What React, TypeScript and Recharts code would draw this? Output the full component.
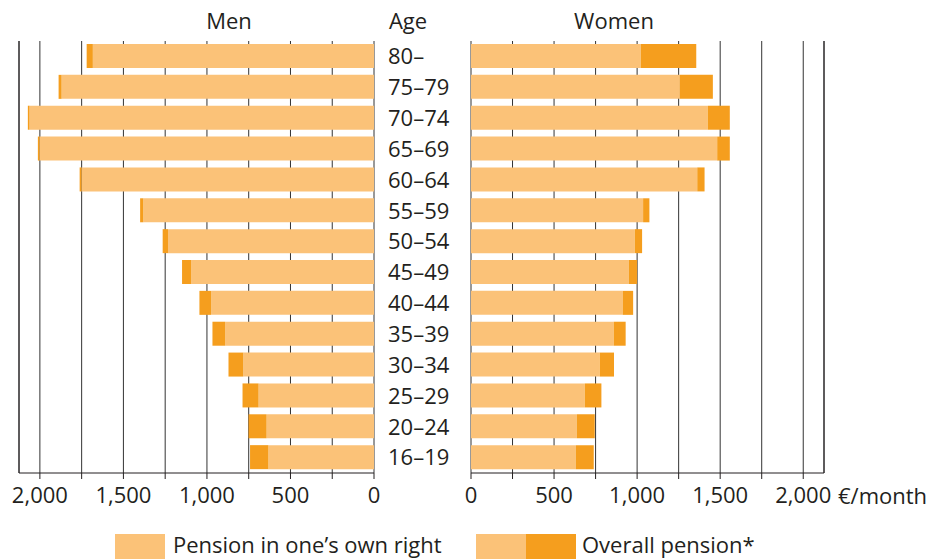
import React from 'react';
import { BarChart, Bar, XAxis, YAxis, CartesianGrid, ReferenceLine } from 'recharts';

const ageGroups = ['80–', '75–79', '70–74', '65–69', '60–64', '55–59', '50–54', '45–49', '40–44', '35–39', '30–34', '25–29', '20–24', '16–19'];
const menOwn = [1683, 1870, 2062, 2002, 1751, 1381, 1233, 1095, 975, 891, 783, 691, 643, 632];
const menOverall = [1720, 1888, 2072, 2012, 1762, 1400, 1265, 1149, 1045, 967, 871, 787, 751, 742];
const womenOwn = [1022, 1256, 1426, 1482, 1362, 1036, 986, 950, 913, 859, 775, 685, 637, 631];
const womenOverall = [1356, 1456, 1558, 1558, 1406, 1074, 1030, 1000, 976, 931, 861, 785, 745, 739];
const axisTicks = [0, 250, 500, 750, 1000, 1250, 1500, 1750, 2000];
const labeledTicks = [0, 500, 1000, 1500, 2000];
const axisMax = 2125;

const LIGHT = '#FBC278';
const DARK = '#F59E1E';
const INK = '#231F20';
const GRID = '#333333';
const FONT = '"Open Sans", "Noto Sans", sans-serif';
const FS = 22;

const menData = ageGroups.map((age, i) => ({ age, own: menOwn[i], extra: menOverall[i] - menOwn[i] }));
const womenData = ageGroups.map((age, i) => ({ age, own: womenOwn[i], extra: womenOverall[i] - womenOwn[i] }));

const fmt = (v: number) => (labeledTicks.includes(v) ? v.toLocaleString('en-US') : '');

export default function App() {
  return (
    <div style={{ position: 'absolute', left: 0, top: 0, width: 942, height: 559, background: '#fff', fontFamily: FONT, overflow: 'hidden' }}>
      <div style={{ position: 'absolute', left: 0, top: 0 }}>
        <BarChart layout="vertical" width={460} height={520} data={menData} margin={{ top: 41, right: 0, bottom: 0, left: 19 }} barSize={24}>
          <CartesianGrid horizontal={false} stroke={GRID} />
          <XAxis type="number" reversed domain={[0, axisMax]} ticks={axisTicks} interval={0} tickFormatter={fmt} height={47}
            tickMargin={8} axisLine={{ stroke: INK }} tickLine={{ stroke: INK }} tick={{ fill: INK, fontSize: FS, fontFamily: FONT }} />
          <XAxis xAxisId="top" orientation="top" type="number" reversed domain={[0, axisMax]} height={0} tick={false} tickLine={false} axisLine={{ stroke: INK }} />
          <YAxis type="category" dataKey="age" orientation="right" width={86} axisLine={false} tickLine={false} tickSize={6} tickMargin={8} interval={0}
            tick={{ fill: INK, fontSize: FS, fontFamily: FONT, textAnchor: 'start' }} />
          <ReferenceLine x={axisMax} stroke={INK} />
          <Bar dataKey="own" stackId="a" fill={LIGHT} isAnimationActive={false} />
          <Bar dataKey="extra" stackId="a" fill={DARK} isAnimationActive={false} />
        </BarChart>
      </div>
      <div style={{ position: 'absolute', left: 460, top: 0 }}>
        <BarChart layout="vertical" width={482} height={520} data={womenData} margin={{ top: 41, right: 118, bottom: 0, left: 11 }} barSize={24}>
          <CartesianGrid horizontal={false} stroke={GRID} />
          <XAxis type="number" domain={[0, axisMax]} ticks={axisTicks} interval={0} tickFormatter={fmt} height={47}
            tickMargin={8} axisLine={{ stroke: INK }} tickLine={{ stroke: INK }} tick={{ fill: INK, fontSize: FS, fontFamily: FONT }}
            label={{ value: '€/month', position: 'right', offset: 14, fill: INK, fontSize: FS, fontFamily: FONT }} />
          <XAxis xAxisId="top" orientation="top" type="number" domain={[0, axisMax]} height={0} tick={false} tickLine={false} axisLine={{ stroke: INK }} />
          <YAxis type="category" dataKey="age" hide />
          <ReferenceLine x={axisMax} stroke={INK} />
          <Bar dataKey="own" stackId="a" fill={LIGHT} isAnimationActive={false} />
          <Bar dataKey="extra" stackId="a" fill={DARK} isAnimationActive={false} />
        </BarChart>
      </div>
      <svg width={942} height={559} style={{ position: 'absolute', left: 0, top: 0, pointerEvents: 'none' }}>
        <g fontFamily={FONT} fontSize={FS} fill={INK}>
          <text x={229} y={29} textAnchor="middle">Men</text>
          <text x={408} y={29} textAnchor="middle">Age</text>
          <text x={614} y={29} textAnchor="middle">Women</text>
          <rect x={115} y={534} width={50} height={26} fill={LIGHT} />
          <text x={173} y={553}>Pension in one’s own right</text>
          <rect x={476} y={534} width={50} height={26} fill={LIGHT} />
          <rect x={526} y={534} width={50} height={26} fill={DARK} />
          <text x={582} y={553}>Overall pension*</text>
        </g>
      </svg>
    </div>
  );
}
